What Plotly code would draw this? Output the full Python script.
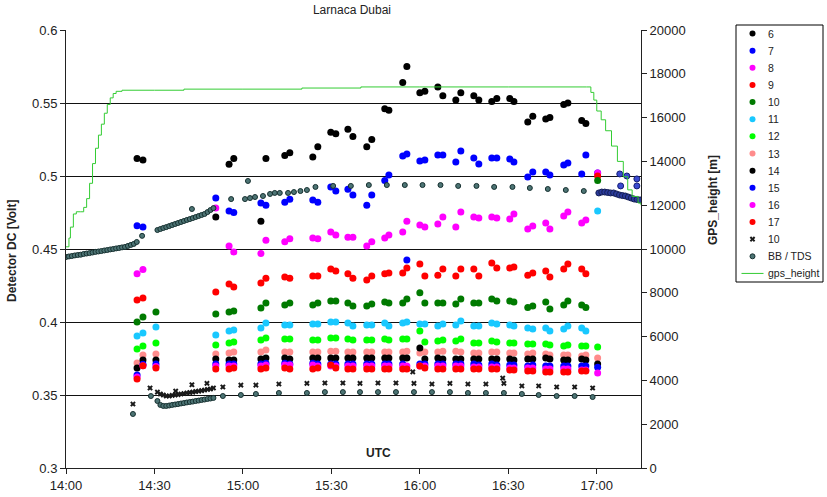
import plotly.graph_objects as go

# ---------------- data ----------------
# minutes after 14:00 for the detector sessions
T_SESS = [24.1, 26.1, 30.5, 50.8, 55.3, 56.9, 66.1, 67.8, 74.2, 75.9, 83.7, 85.4, 89.8, 91.5,
          95.6, 97.3, 102.0, 103.7, 108.1, 109.5, 114.2, 115.6, 120.0, 121.7, 126.1, 127.8,
          132.2, 133.9, 138.3, 140.0, 144.4, 146.1, 150.5, 151.9, 156.6, 158.3, 162.7, 164.1,
          168.8, 170.2, 174.9, 176.3, 180.3]

s6 = [0.512, 0.511, None, 0.472, 0.508, 0.512, 0.469, 0.512, 0.514, 0.516, 0.513, 0.520, 0.530, 0.529,
      0.532, 0.527, 0.520, 0.525, 0.546, 0.545, 0.564, 0.575, 0.557, 0.558, 0.561, 0.555, 0.552, 0.557,
      0.555, 0.552, 0.551, 0.553, 0.553, 0.551, 0.537, 0.541, 0.539, 0.540, 0.549, 0.550, 0.538, 0.536, None]
s7 = [0.466, 0.465, None, 0.485, 0.476, 0.475, 0.4815, 0.480, 0.482, 0.484, 0.4836, 0.482, 0.4925, 0.4897,
      0.491, 0.487, 0.480, 0.487, 0.497, 0.5007, 0.5137, 0.515, 0.5103, 0.511, 0.5144, 0.5144, 0.5096, 0.5171,
      0.5123, 0.5082, 0.5123, 0.5123, 0.5116, 0.5096, 0.4993, 0.5027, 0.5027, 0.5007, 0.5075, 0.5089, 0.5014,
      0.5144, 0.502]
s8 = [0.433, 0.436, None, 0.478, 0.452, 0.448, 0.447, 0.456, 0.455, 0.457, 0.4575, 0.457, 0.4616, 0.4596,
      0.458, 0.458, 0.452, 0.455, 0.4575, 0.4596, 0.4616, 0.469, 0.4664, 0.465, 0.4671, 0.472, 0.465, 0.4753,
      0.472, 0.4712, 0.472, 0.4712, 0.4705, 0.474, 0.4637, 0.4658, 0.4678, 0.4637, 0.4726, 0.4753, 0.4678,
      0.4699, 0.502]
s9 = [0.415, 0.4164, None, 0.4205, 0.426, 0.424, 0.4267, 0.430, 0.4308, 0.430, 0.4315, 0.4315, 0.4363, 0.435,
      0.433, 0.430, 0.4288, 0.4315, 0.433, 0.4336, 0.4336, 0.437, 0.4397, 0.4315, 0.432, 0.4363, 0.4315, 0.4363,
      0.4363, 0.4315, 0.4404, 0.437, 0.437, 0.4377, 0.432, 0.4336, 0.435, 0.4308, 0.4363, 0.4397, 0.4363,
      0.433, 0.500]
s10 = [0.400, 0.4034, 0.4068, 0.4055, 0.4068, 0.4075, 0.4096, 0.413, 0.4116, 0.413, 0.4116, 0.413, 0.4144,
       0.4144, 0.413, 0.411, 0.411, 0.4123, 0.4137, 0.413, 0.413, 0.4158, 0.420, 0.413, 0.413, 0.413, 0.4123,
       0.4158, 0.413, 0.413, 0.4158, 0.4144, 0.4144, 0.4137, 0.410, 0.411, 0.4137, 0.4089, 0.4116, 0.4144,
       0.4116, 0.410, 0.497]
s11 = [0.3904, 0.3925, 0.3966, 0.3911, 0.3938, 0.3945, 0.3959, 0.3993, 0.398, 0.398, 0.3986, 0.3986, 0.400,
       0.400, 0.3993, 0.3973, 0.398, 0.398, 0.3993, 0.3973, 0.3993, 0.400, 0.3986, 0.3986, 0.3973, 0.3986,
       0.398, 0.4007, 0.3973, 0.3973, 0.3993, 0.3986, 0.398, 0.3973, 0.3959, 0.3952, 0.3959, 0.3938, 0.3952,
       0.3973, 0.3959, 0.3938, 0.476]
s12 = [0.3815, 0.3836, 0.3856, 0.3842, 0.3856, 0.3863, 0.3877, 0.389, 0.3884, 0.3884, 0.3877, 0.3877, 0.389,
       0.389, 0.3884, 0.3877, 0.3877, 0.3877, 0.3884, 0.3877, 0.3884, 0.3884, 0.3938, 0.3863, 0.387, 0.3877,
       0.387, 0.3884, 0.3856, 0.3856, 0.387, 0.3863, 0.3856, 0.3856, 0.3849, 0.3849, 0.3849, 0.3842, 0.3836,
       0.3842, 0.3836, 0.3836, 0.3829]
s13 = [0.3719, 0.3774, 0.378, 0.378, 0.3788, 0.3795, 0.3795, 0.3808, 0.3795, 0.3795, 0.3795, 0.3795, 0.380,
       0.380, 0.3795, 0.3795, 0.3795, 0.3795, 0.3795, 0.3795, 0.3795, 0.380, 0.3788, 0.3795, 0.3795, 0.380,
       0.380, 0.3795, 0.3788, 0.3788, 0.3795, 0.3795, 0.3788, 0.3788, 0.378, 0.3788, 0.378, 0.3774, 0.3774,
       0.3774, 0.3767, 0.3774, 0.3753]
s14 = [0.3685, 0.374, 0.374, 0.3747, 0.374, 0.374, 0.3747, 0.3753, 0.3753, 0.3747, 0.3753, 0.3753, 0.3753,
       0.3753, 0.3753, 0.3753, 0.3753, 0.3753, 0.3753, 0.3753, 0.3753, 0.3753, 0.3822, 0.3747, 0.3753, 0.3747,
       0.3747, 0.3747, 0.3747, 0.3747, 0.3747, 0.3747, 0.3747, 0.374, 0.3747, 0.3747, 0.3753, 0.3747, 0.374,
       0.374, 0.3747, 0.374, 0.3712]
s15 = [0.3637, 0.371, 0.3712, 0.3712, 0.3712, 0.3712, 0.3712, 0.3718, 0.3718, 0.3712, 0.3718, 0.3712, 0.3712,
       0.3712, 0.3712, 0.3712, 0.3712, 0.3712, 0.3712, 0.3712, 0.3712, 0.4425, 0.3712, 0.3712, 0.3712, 0.3712,
       0.3712, 0.3712, 0.3712, 0.3705, 0.3712, 0.3705, 0.3705, 0.3705, 0.3698, 0.3705, 0.3698, 0.3698, 0.3698,
       0.3698, 0.3698, 0.3698, 0.369]
s16 = [0.3623, 0.370, 0.3695, 0.3698, 0.3698, 0.3698, 0.3698, 0.3705, 0.3705, 0.3705, 0.3705, 0.3698, 0.3698,
       0.3698, 0.3698, 0.3698, 0.3698, 0.3698, 0.3698, 0.3698, 0.3698, 0.3698, 0.3698, 0.3698, 0.3698, 0.3698,
       0.3698, 0.3698, 0.3691, 0.3691, 0.3691, 0.3691, 0.3685, 0.3685, 0.3685, 0.3685, 0.3678, 0.3678, 0.3678,
       0.3678, 0.3671, 0.3671, 0.365]
s17 = [0.361, 0.370, 0.3685, 0.3678, 0.3678, 0.3685, 0.3678, 0.3685, 0.3685, 0.3678, 0.3678, 0.3685, 0.3705,
       0.3685, 0.3678, 0.3678, 0.3678, 0.3678, 0.3678, 0.3678, 0.3678, 0.3678, 0.3698, 0.3685, 0.3678, 0.3678,
       0.3678, 0.3678, 0.3678, 0.3678, 0.3678, 0.3678, 0.3671, 0.3671, 0.3664, 0.3664, 0.3658, 0.3658, 0.3658,
       0.3658, 0.3664, 0.3664, None]

# black "x" channel 10
T_X = [22.7, 28.5, 31, 32, 33, 34, 35, 36, 37, 38, 39, 40, 41, 42, 43, 44, 45, 46, 47, 48, 49, 50,
       37.2, 42.7, 47.8, 53.2, 59.3, 64.4, 72.2, 81.7, 87.8, 93.9, 99.7, 105.8, 111.9, 117.6, 118.0,
       124.1, 130.2, 136.3, 142.4, 148.1, 148.5, 154.6, 160.3, 166.4, 172.5, 178.6]
v_x = [0.3438, 0.3548, 0.352, 0.3507, 0.350, 0.3493, 0.3493, 0.3497, 0.350, 0.3503, 0.3507, 0.351, 0.3514,
       0.3517, 0.352, 0.3524, 0.3527, 0.353, 0.3534, 0.3538, 0.3541, 0.3548,
       0.3527, 0.357, 0.358, 0.3555, 0.3568, 0.3568, 0.3575, 0.358, 0.3582, 0.3582, 0.358, 0.3582, 0.3582,
       0.3658, 0.358, 0.3575, 0.358, 0.3575, 0.3575, 0.3616, 0.358, 0.3562, 0.3562, 0.3555, 0.3555, 0.3548]

# BB / TDS channel (upper and lower signals)
T_BB = [0, 1, 2, 3, 4, 5, 6, 7, 8, 9, 10, 11, 12, 13, 14, 15, 16, 17, 18, 19, 20, 21, 22, 23, 24,
        25.8, 31, 32, 33, 34, 35, 36, 37, 38, 39, 40, 41, 42, 43, 44, 45, 46, 47, 48, 49, 50, 42.7,
        56.0, 61.7, 60.7, 62.4, 64.1, 66.8, 69.2, 70.8, 72.5, 75.3, 77.3, 79.5, 81.7,
        84.6, 90.6, 96.6, 102.7, 108.8, 114.9, 120.9, 127.0, 133.0, 139.2, 145.2, 151.4, 157.3, 163.4,
        169.5, 175.6,
        22.7, 28.8, 31, 32, 33, 34, 35, 36, 37, 38, 39, 40, 41, 42, 43, 44, 45, 46, 47, 48, 49, 50,
        53.2, 59.3, 64.4, 72.2, 81.7, 87.8, 93.9, 99.7, 105.8, 111.9, 118.0, 124.1, 130.2, 136.3, 142.4,
        148.5, 154.6, 160.3, 166.4, 172.5, 178.6]
v_bb = [0.4445, 0.4449, 0.4452, 0.4456, 0.4459, 0.4461, 0.4466, 0.4469, 0.4472, 0.4476, 0.448, 0.4483,
        0.4486, 0.449, 0.4493, 0.4497, 0.4500, 0.4504, 0.4507, 0.4511, 0.4514, 0.4521, 0.4528, 0.4535, 0.4548,
        0.459, 0.4630, 0.4637, 0.4644, 0.4650, 0.4657, 0.4664, 0.4671, 0.4678, 0.4685, 0.4692, 0.4699, 0.4705,
        0.4712, 0.4719, 0.4726, 0.4733, 0.4740, 0.4753, 0.4767, 0.4780, 0.4774,
        0.4842, 0.4966, 0.4842, 0.4849, 0.4856, 0.4863, 0.4877, 0.4884, 0.4884, 0.4884, 0.489, 0.4897, 0.4904,
        0.4925, 0.4932, 0.4932, 0.4938, 0.4938, 0.4938, 0.4938, 0.4938, 0.4932, 0.4932, 0.4925, 0.4925, 0.4918,
        0.4911, 0.4904, 0.4897,
        0.337, 0.3493, 0.3459, 0.3432, 0.3425, 0.3425, 0.3428, 0.3432, 0.3435, 0.3438, 0.3442, 0.3445, 0.3449,
        0.3452, 0.3455, 0.3459, 0.3462, 0.3466, 0.3469, 0.3473, 0.3476, 0.348,
        0.3493, 0.350, 0.3507, 0.3514, 0.3514, 0.352, 0.352, 0.352, 0.352, 0.352, 0.352, 0.352, 0.352, 0.3514,
        0.3514, 0.3514, 0.3507, 0.350, 0.3493, 0.3493, 0.3486]

# continuous BB / TDS record after 17:00 (drawn dark blue)
T_BB2 = [180.7, 181.7, 182.7, 183.7, 184.7, 185.7, 186.7, 187.7, 188.7, 189.7, 190.7, 191.7, 192.7, 193.7, 194.7]
v_bb2 = [0.4884, 0.489, 0.489, 0.4887, 0.4884, 0.4884, 0.4877, 0.487, 0.4866, 0.4863, 0.4856, 0.4849,
         0.4842, 0.4839, 0.4836]
# scattered blue points after 17:00
T_B3 = [187.8, 188.1, 190.2, 193.6, 193.6]
v_b3 = [0.5014, 0.4932, 0.500, 0.498, 0.4932]

# GPS height [m]
T_GPS = [0, 1, 1.5, 2.5, 3.5, 5, 6, 7, 8, 9, 10, 11, 12, 13, 14, 15, 16, 17, 19, 30, 40, 60, 80, 100,
         120, 150, 175, 176.5, 178, 179, 180, 181.5, 183, 185, 187, 189, 190.5, 192, 194, 195]
h_gps = [10100, 10500, 11000, 11600, 11700, 11700, 11900, 12300, 13000, 13900, 14600, 15200, 15700, 16200,
         16600, 16900, 17100, 17200, 17250, 17250, 17300, 17300, 17350, 17400, 17400, 17400, 17400, 17400,
         17150, 16800, 16300, 15900, 15400, 14700, 14000, 13300, 12700, 12400, 12100, 12000]

TICK_MIN = [0, 30, 60, 90, 120, 150, 180]
TICK_TXT = ["14:00", "14:30", "15:00", "15:30", "16:00", "16:30", "17:00"]

NAMES = ["6", "7", "8", "9", "10", "11", "12", "13", "14", "15", "16", "17"]
COLORS = ["#000000", "#0000ff", "#ff00ff", "#ff0000", "#007a00", "#19c8ff", "#00ff00", "#ff8c8c",
          "#000000", "#0000ff", "#ff00ff", "#ff0000"]
SERIES = [s6, s7, s8, s9, s10, s11, s12, s13, s14, s15, s16, s17]
LEGEND_LABELS = NAMES + ["10", "BB / TDS", "gps_height"]

W, H = 827, 497
PLOT_L, PLOT_R, PLOT_T, PLOT_B = 66, 641, 30, 468      # plot area in pixels
LEG_L, LEG_R, LEG_T, LEG_B = 736, 823, 25, 282        # legend box in pixels

X_MARK = dict(symbol="x", size=5, color="#1a1a1a", line=dict(width=0))
BB_MARK = dict(symbol="circle", size=5, color="#4d7474", line=dict(width=1, color="#163030"))
GPS_LINE = dict(color="#33cc33", width=1)

# ---------------- figure ----------------
fig = go.Figure()
for name, col, vals in zip(NAMES, COLORS, SERIES):
    fig.add_trace(go.Scatter(x=T_SESS, y=vals, name=name, mode="markers",
                             marker=dict(size=7, color=col, line=dict(width=0))))

fig.add_trace(go.Scatter(x=T_X, y=v_x, name="10", mode="markers", marker=X_MARK))
fig.add_trace(go.Scatter(x=T_BB, y=v_bb, name="BB / TDS", mode="markers", marker=BB_MARK))
fig.add_trace(go.Scatter(x=T_BB2, y=v_bb2, name="BB / TDS", mode="markers",
                         marker=dict(symbol="circle", size=6, color="#2a3a9a",
                                     line=dict(width=1, color="#141e55"))))
fig.add_trace(go.Scatter(x=T_B3, y=v_b3, name="7", mode="markers",
                         marker=dict(symbol="circle", size=6, color="#3a4ad0",
                                     line=dict(width=1, color="#141e75"))))
fig.add_trace(go.Scatter(x=T_GPS, y=h_gps, name="gps_height", mode="lines", yaxis="y2",
                         line=dict(GPS_LINE, shape="hv")))

# ---- hand-drawn legend (on its own small hidden axes) ----
leg_w = LEG_R - LEG_L
for i, lab in enumerate(LEGEND_LABELS):
    yy = i + 0.5
    if i < 12:
        fig.add_trace(go.Scatter(x=[16.5], y=[yy], mode="markers", xaxis="x2", yaxis="y3",
                                 marker=dict(size=6, color=COLORS[i]), hoverinfo="skip"))
    elif lab == "10":
        fig.add_trace(go.Scatter(x=[16.5], y=[yy], mode="markers", xaxis="x2", yaxis="y3",
                                 marker=X_MARK, hoverinfo="skip"))
    elif lab == "BB / TDS":
        fig.add_trace(go.Scatter(x=[16.5], y=[yy], mode="markers", xaxis="x2", yaxis="y3",
                                 marker=dict(BB_MARK, size=5), hoverinfo="skip"))
    else:
        fig.add_trace(go.Scatter(x=[5.5, 27.5], y=[yy, yy], mode="lines", xaxis="x2", yaxis="y3",
                                 line=GPS_LINE, hoverinfo="skip"))
    fig.add_annotation(x=29.5, y=yy, xref="x2", yref="y3", text=lab, showarrow=False,
                       xanchor="left", yanchor="middle", font=dict(size=10.5, color="#222"))

FONT = "Liberation Sans, Arial, sans-serif"
px_x = lambda p: p / W
px_y = lambda p: 1 - p / H
fig.update_layout(
    width=W, height=H,
    margin=dict(l=0, r=0, t=0, b=0, autoexpand=False),
    paper_bgcolor="white", plot_bgcolor="white",
    font=dict(family=FONT, size=13, color="#222"),
    title=dict(text="Larnaca Dubai", x=0.4256, xanchor="center", y=px_y(10), yanchor="middle",
               font=dict(size=12, color="#222")),
    showlegend=False,
    xaxis=dict(domain=[px_x(PLOT_L), px_x(PLOT_R)], range=[0, 195], tickmode="array",
               tickvals=TICK_MIN, ticktext=TICK_TXT, anchor="y",
               showgrid=False, zeroline=False, showline=True, linecolor="#222", linewidth=1,
               ticks="outside", ticklen=5, tickcolor="#222"),
    yaxis=dict(domain=[px_y(PLOT_B), px_y(PLOT_T)], range=[0.3, 0.6], tickmode="array", anchor="x",
               tickvals=[0.3, 0.35, 0.4, 0.45, 0.5, 0.55, 0.6],
               ticktext=["0.3", "0.35", "0.4", "0.45", "0.5", "0.55", "0.6"],
               showgrid=True, gridcolor="#111", gridwidth=1, zeroline=False,
               showline=True, linecolor="#222", linewidth=1, ticks="outside", ticklen=5,
               tickcolor="#222"),
    yaxis2=dict(range=[0, 20000], overlaying="y", side="right", anchor="x", dtick=2000, tickformat="d",
                showgrid=False, zeroline=False, showline=True, linecolor="#222", linewidth=1,
                ticks="outside", ticklen=5, tickcolor="#222"),
    xaxis2=dict(domain=[px_x(LEG_L), px_x(LEG_R)], range=[0, leg_w], anchor="y3", visible=False,
                fixedrange=True),
    yaxis3=dict(domain=[px_y(LEG_B), px_y(LEG_T)], range=[len(LEGEND_LABELS), 0], anchor="x2",
                visible=False, fixedrange=True),
    shapes=[dict(type="rect", xref="paper", yref="paper", x0=px_x(LEG_L), x1=px_x(LEG_R),
                 y0=px_y(LEG_B), y1=px_y(LEG_T), line=dict(color="#000", width=1),
                 fillcolor="rgba(0,0,0,0)", layer="below")],
)
fig.add_annotation(text="<b>Detector DC [Volt]</b>", xref="paper", yref="paper", x=px_x(12), y=px_y(251),
                   textangle=-90, showarrow=False, font=dict(size=12, color="#222"),
                   xanchor="center", yanchor="middle")
fig.add_annotation(text="<b>GPS_height [m]</b>", xref="paper", yref="paper", x=px_x(713), y=px_y(200),
                   textangle=-90, showarrow=False, font=dict(size=12, color="#222"),
                   xanchor="center", yanchor="middle")
fig.add_annotation(text="<b>UTC</b>", xref="paper", yref="paper", x=px_x(378), y=px_y(453),
                   showarrow=False, font=dict(size=12, color="#222"), xanchor="center", yanchor="middle")

fig.write_html("out.html", config={"displayModeBar": False},
               post_script="document.body.style.margin='0';document.body.style.padding='0';")
